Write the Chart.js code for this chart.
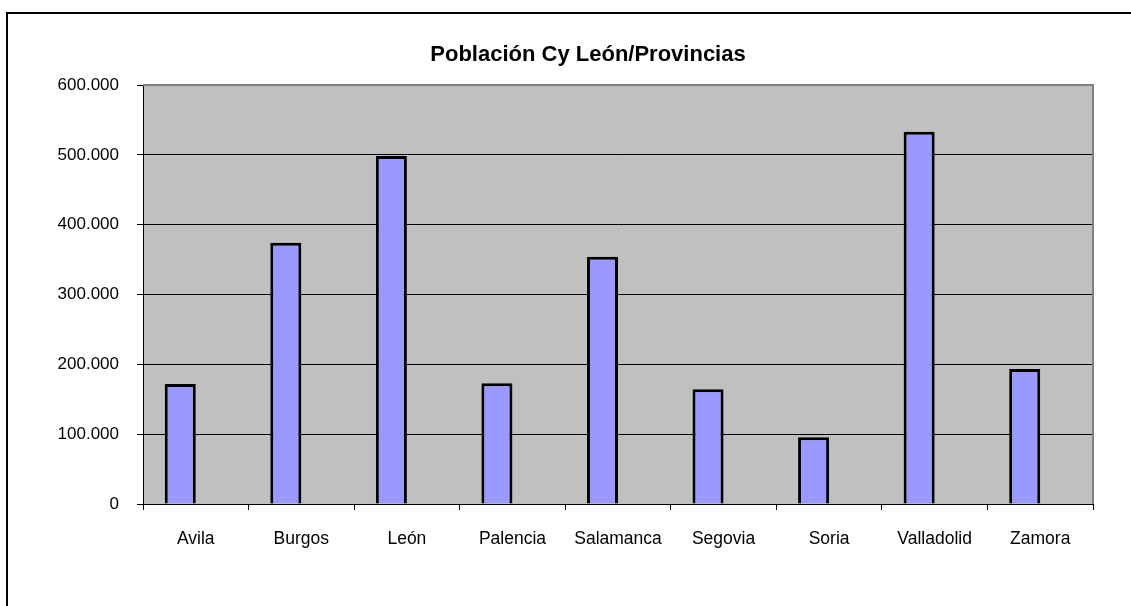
<!DOCTYPE html>
<html>
<head>
<meta charset="utf-8">
<script src="https://cdn.jsdelivr.net/npm/chart.js@4"></script>
<style>
	body { margin: 0; background: #fff; }
	#frame { position: absolute; left: 6px; top: 12px; width: 2000px; height: 2000px; border: 2px solid #000; }
	#chart { position: absolute; left: 0; top: 0; }
</style>
</head>
<body>
<div id="frame"></div>
<canvas id="chart" width="1131" height="606"></canvas>
<script>
const titulo = 'Población Cy León/Provincias';
const provincias = ['Avila', 'Burgos', 'León', 'Palencia', 'Salamanca', 'Segovia', 'Soria', 'Valladolid', 'Zamora'];
const poblacion = [171900, 374200, 498500, 172800, 354100, 164200, 95500, 533100, 193300];
// the original sheet has a second, empty series, which pushes each bar left of its category centre
const serieVacia = [null, null, null, null, null, null, null, null, null];
const yMax = 600000;
const yStep = 100000;

const fontFamily = "'Liberation Sans', Arial, sans-serif";

function formatMiles(v) {
	return String(v).replace(/\B(?=(\d{3})+(?!\d))/g, '.');
}

// grey plot background + grey top/right border, and the title (centred on the whole frame, not the plot)
const plotFrame = {
	id: 'plotFrame',
	beforeDraw(chart) {
		const {ctx, chartArea: a} = chart;
		ctx.save();
		ctx.fillStyle = '#c0c0c0';
		ctx.fillRect(a.left, a.top, a.right - a.left, a.bottom - a.top);
		ctx.restore();
	},
	beforeDatasetsDraw(chart) {
		const {ctx, chartArea: a} = chart;
		ctx.save();
		ctx.strokeStyle = '#808080';
		ctx.lineWidth = 2;
		ctx.beginPath();
		ctx.moveTo(a.left, a.top);
		ctx.lineTo(a.right, a.top);
		ctx.lineTo(a.right, a.bottom);
		ctx.stroke();
		ctx.restore();
	},
	afterDraw(chart) {
		const ctx = chart.ctx;
		ctx.save();
		ctx.fillStyle = '#000';
		ctx.font = 'bold 22px ' + fontFamily;
		ctx.textAlign = 'center';
		ctx.textBaseline = 'alphabetic';
		ctx.fillText(titulo, 588, 61);
		ctx.restore();
	},
};

new Chart(document.getElementById('chart'), {
	type: 'bar',
	data: {
		labels: provincias,
		datasets: [
			{
				label: 'Población',
				data: poblacion,
				backgroundColor: '#9999ff',
				borderColor: '#000',
				borderWidth: 3,
				categoryPercentage: 0.588,
				barPercentage: 1,
			},
			{
				label: '',
				data: serieVacia,
				backgroundColor: '#9999ff',
				categoryPercentage: 0.588,
				barPercentage: 1,
			},
		],
	},
	options: {
		responsive: false,
		animation: false,
		layout: {padding: {left: 30, right: 38, top: 85, bottom: 40}},
		plugins: {
			legend: {display: false},
			tooltip: {enabled: false},
			title: {display: false},
		},
		scales: {
			x: {
				afterFit(scale) { scale.height = 606 - 40 - 504; },
				grid: {drawOnChartArea: false, drawTicks: true, tickLength: 6, tickColor: '#000', offset: true},
				border: {display: true, color: '#000', width: 1},
				ticks: {color: '#000', padding: 19, autoSkip: false, maxRotation: 0, font: {family: fontFamily, size: 17.5}},
			},
			y: {
				min: 0,
				max: yMax,
				afterFit(scale) { scale.width = 143 - 30; },
				grid: {
					color: (c) => (c.tick && c.tick.value === yMax ? '#808080' : '#000'),
					tickColor: '#000',
					tickLength: 6,
					lineWidth: 1,
				},
				border: {display: true, color: '#000', width: 1},
				ticks: {
					stepSize: yStep,
					color: '#000',
					padding: 18,
					font: {family: fontFamily, size: 17},
					callback: (v) => formatMiles(v),
				},
			},
		},
	},
	plugins: [plotFrame],
});
</script>
</body>
</html>
